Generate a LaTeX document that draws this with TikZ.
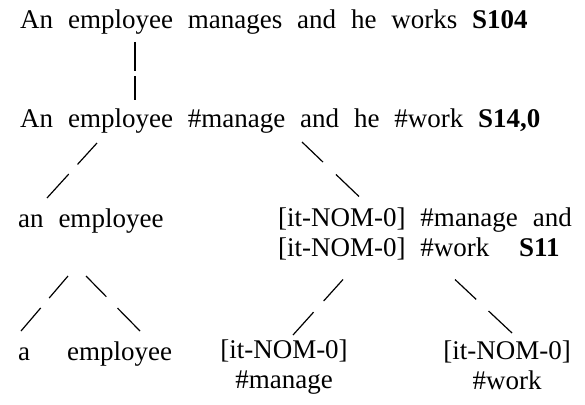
\documentclass[tikz,border=0pt]{standalone}
\usepackage{fontspec}
\setmainfont{Liberation Serif}[WordSpace=2.2]
\usepackage{tikz}
\usetikzlibrary{calc,positioning}

\begin{document}
\begin{tikzpicture}[x=1pt, y=1pt, word/.style = {inner sep=0pt, font=\fontsize{27}{30}\selectfont}, stack/.style = {word, align=center}, brk/.style = {line width=1.2pt, dash pattern=on 29pt off #1 on 300pt}, brk/.default=15pt]
	\useasboundingbox (0,0) rectangle (585,-404);
	\node [word, anchor=base west] (top) at (20,-29) {An employee manages and he works \textbf{S104}};
	\node [word, anchor=base west] (mid) at (20,-127) {An employee \#manage and he \#work \textbf{S14,0}};
	\node [word, anchor=base west] (np) at (18,-227) {an employee};
	\node [word, align=left, anchor=north west] (conj) at (278,-208) {[it-NOM-0] \#manage and\\\relax [it-NOM-0] \#work\hspace{1.1em}\textbf{S11}};
	\node [word, anchor=base west] (a) at (18,-360) {a};
	\node [word, anchor=base west] (emp) at (67,-360) {employee};
	\node [stack, anchor=north] (lv1) at (284,-340) {[it-NOM-0]\\\#manage};
	\node [stack, anchor=north] (lv2) at (507,-341) {[it-NOM-0]\\\#work};
	\draw [brk=5pt] ([shift={(115,-13)}]top.base west) -- ([shift={(115,27)}]mid.base west);
	\draw [brk=13pt] ([shift={(77,-16)}]mid.base west) -- ([shift={(29,29)}]np.base west);
	\draw [brk=18pt] ([shift={(282,-15)}]mid.base west) -- ([shift={(81,11.5)}]conj.north west);
	\draw [brk=13pt] ([shift={(50,-49)}]np.base west) -- ([shift={(3,29)}]a.base west);
	\draw [brk=16pt] ([shift={(68,-49)}]np.base west) -- ([shift={(73,29)}]emp.base west);
	\draw [brk] ([shift={(65,-71.5)}]conj.north west) -- ([shift={(9,5)}]lv1.north);
	\draw [brk=17pt] ([shift={(177,-71.5)}]conj.north west) -- ([shift={(5,8)}]lv2.north);
\end{tikzpicture}
\end{document}
